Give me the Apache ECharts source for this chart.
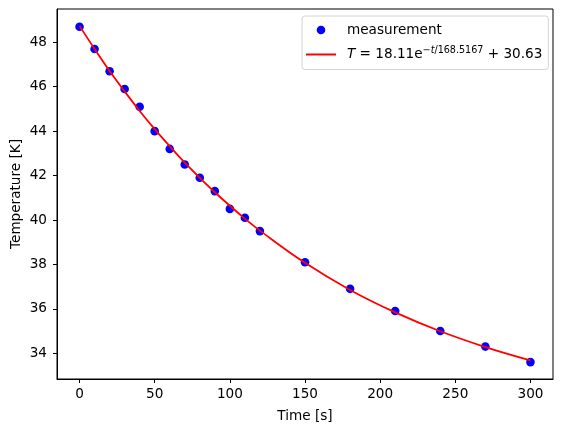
<!DOCTYPE html>
<html>
<head>
<meta charset="utf-8">
<script src="https://cdn.jsdelivr.net/npm/echarts@6/dist/echarts.min.js"></script>
<style>
html,body{margin:0;padding:0;background:#fff;}
#c{width:563px;height:432px;}
</style>
</head>
<body>
<div id="c"></div>
<script>
const times = [0,10,20,30,40,50,60,70,80,90,100,110,120,150,180,210,240,270,300];
const measured = [48.7,47.7,46.7,45.9,45.1,44.0,43.2,42.5,41.9,41.3,40.5,40.1,39.5,38.1,36.9,35.9,35.0,34.3,33.6];
const fitValues = [48.74,47.70,46.71,45.79,44.91,44.09,43.32,42.58,41.90,41.25,40.64,40.06,39.52,38.07,36.85,35.84,34.99,34.28,33.68];
const xTicks = [0,50,100,150,200,250,300];
const yTicks = [34,36,38,40,42,44,46,48];
const seriesNames = ['measurement','fit'];

const FONT = 'DejaVu Sans';
const FS = 13.6;
const chart = echarts.init(document.getElementById('c'), null, {renderer:'canvas'});

const measPts = times.map((t,i)=>[t, measured[i]]);
const fitPts = times.map((t,i)=>[t, fitValues[i]]);

chart.setOption({
  animation:false,
  backgroundColor:'#fff',
  textStyle:{fontFamily:FONT, color:'#000'},
  grid:{left:57, right:10, top:9, bottom:53, containLabel:false, outerBoundsMode:'none',
    show:true, borderColor:'#000', borderWidth:1, backgroundColor:'transparent'},
  xAxis:{
    type:'value', min:-15, max:315,
    name:'Time [s]', nameLocation:'middle', nameGap:30, nameMoveOverlap:false,
    nameTextStyle:{fontFamily:FONT, fontSize:FS, color:'#000'},
    axisLine:{show:true, onZero:false, lineStyle:{color:'#000', width:1}},
    axisTick:{show:true, inside:false, length:4, lineStyle:{color:'#000', width:1}, customValues:xTicks},
    axisLabel:{fontFamily:FONT, fontSize:FS, color:'#000', margin:8, customValues:xTicks},
    splitLine:{show:false}
  },
  yAxis:{
    type:'value', min:32.84, max:49.5,
    name:'Temperature [K]', nameLocation:'middle', nameGap:34, nameMoveOverlap:false,
    nameTextStyle:{fontFamily:FONT, fontSize:FS, color:'#000'},
    axisLine:{show:true, onZero:false, lineStyle:{color:'#000', width:1}},
    axisTick:{show:true, inside:false, length:4, lineStyle:{color:'#000', width:1}, customValues:yTicks},
    axisLabel:{fontFamily:FONT, fontSize:FS, color:'#000', margin:10, customValues:yTicks},
    splitLine:{show:false}
  },
  legend:{
    orient:'vertical', left:302, top:16,
    data:[
      {name:seriesNames[0], icon:'circle', itemStyle:{color:'#0000ff', opacity:1}},
      {name:seriesNames[1], icon:'path://M0,0H30V2H0Z', itemStyle:{color:'#ff0000', borderWidth:0}}
    ],
    itemWidth:30, itemHeight:8.6, itemGap:8,
    padding:[7,6,8,4],
    backgroundColor:'#fff', borderColor:'#d4d4d4', borderWidth:1, borderRadius:3,
    textStyle:{fontFamily:FONT, fontSize:FS, color:'#000', padding:[0,0,0,6],
      rich:{
        n:{fontFamily:FONT, fontSize:FS, color:'#000'},
        it:{fontFamily:FONT, fontSize:FS, fontStyle:'italic', color:'#000'},
        sup:{fontFamily:FONT, fontSize:9.6, color:'#000', padding:[0,0,9,0]},
        supi:{fontFamily:FONT, fontSize:9.6, fontStyle:'italic', color:'#000', padding:[0,0,9,0]}
      }
    },
    formatter:function(name){
      if(name===seriesNames[1]){
        return '{it|T}{n| = 18.11e}{sup|\u2212}{supi|t}{sup|/168.5167}{n| + 30.63}';
      }
      return name;
    }
  },
  series:[
    {
      name:seriesNames[0], type:'scatter', data:measPts,
      symbol:'circle', symbolSize:8.6,
      itemStyle:{color:'#0000ff', opacity:1}, z:2
    },
    {
      name:seriesNames[1], type:'line', data:fitPts,
      smooth:0.4, symbol:'none', showSymbol:false,
      lineStyle:{color:'#ff0000', width:1.8},
      itemStyle:{color:'#ff0000'}, z:3
    }
  ]
});
</script>
</body>
</html>
